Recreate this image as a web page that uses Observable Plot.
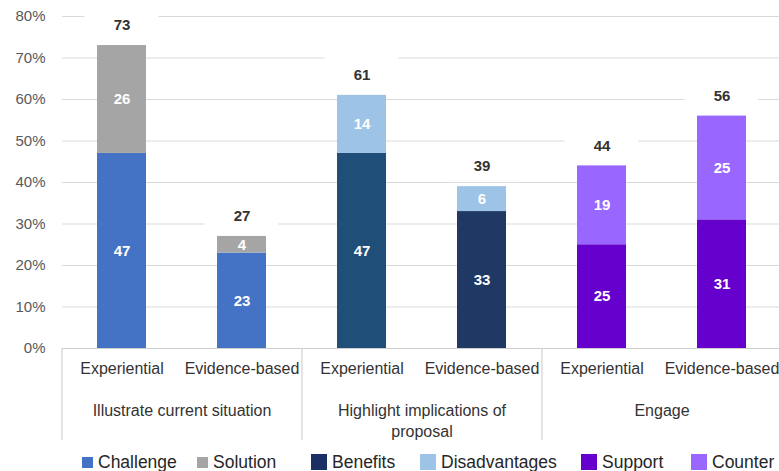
<!DOCTYPE html>
<html>
<head>
<meta charset="utf-8">
<script src="https://cdn.jsdelivr.net/npm/d3@7"></script>
<script src="https://cdn.jsdelivr.net/npm/@observablehq/plot@0.6"></script>
<style>
  body { margin: 0; background: #fff; font-family: "Liberation Sans", Arial, sans-serif; }
  #chart { position: relative; width: 779px; height: 471px; overflow: hidden; }
  #chart svg { display: block; }
  .legend { position: absolute; top: 450px; left: 0; width: 779px; height: 24px; font-size: 17.5px; color: #262626; }
  .legend .item { position: absolute; top: 0; height: 24px; display: flex; align-items: center; white-space: nowrap; }
  .legend .sw { display: inline-block; margin-right: 5px; }
</style>
</head>
<body>
<div id="chart"></div>
<script>
// Category and tick labels
const groups = ["Illustrate current situation", "Highlight implications of\nproposal", "Engage"];
const evidenceTypes = ["Experiential", "Evidence-based"];
const yTicks = [0, 10, 20, 30, 40, 50, 60, 70, 80];

// Stacked segments, one entry per bar (bars ordered group by group)
const lowerSeries = ["Challenge", "Challenge", "Benefits", "Benefits", "Support", "Support"];
const lowerValues = [47, 23, 47, 33, 25, 31];
const upperSeries = ["Solution", "Solution", "Disadvantages", "Disadvantages", "Counter", "Counter"];
const upperValues = [26, 4, 14, 6, 19, 25];

// Legend entries
const legendSeries = ["Challenge", "Solution", "Benefits", "Disadvantages", "Support", "Counter"];

// Colours
const palette = {
  Challenge: "#4472C4",
  Solution: "#A5A5A5",
  Benefits: "#1B2F63",
  Disadvantages: "#9DC3E6",
  Support: "#6600CC",
  Counter: "#9966FF"
};
const benefitsShade = {"Experiential": "#1F4E79", "Evidence-based": "#203864"};

// Layout
const width = 779, height = 450;
const plotLeft = 62, plotRight = 782, plotTop = 16, plotBottom = 348;
const step = (plotRight - plotLeft) / (groups.length * evidenceTypes.length);

// Build tidy tables
const bars = lowerValues.map((v, i) => ({
  id: "bar" + i,
  group: groups[Math.floor(i / evidenceTypes.length)],
  type: evidenceTypes[i % evidenceTypes.length],
  total: v + upperValues[i]
}));
const segments = [];
bars.forEach((b, i) => {
  segments.push({id: b.id, type: b.type, series: lowerSeries[i], value: lowerValues[i]});
  segments.push({id: b.id, type: b.type, series: upperSeries[i], value: upperValues[i]});
});
const groupRows = groups.map((g, k) => ({label: g, first: bars[k * evidenceTypes.length].id}));

const segmentFill = d => d.series === "Benefits" ? benefitsShade[d.type] : palette[d.series];

const chart = Plot.plot({
  width, height,
  marginLeft: plotLeft, marginRight: 0,
  marginTop: plotTop, marginBottom: height - plotBottom,
  style: {fontFamily: '"Liberation Sans", Arial, sans-serif', background: "#fff"},
  x: {domain: bars.map(d => d.id), range: [plotLeft, plotRight], paddingInner: 0.59, paddingOuter: 0.295, axis: null},
  y: {domain: [0, 80], axis: null},
  color: {type: "identity"},
  marks: [
    // gridlines and baseline
    Plot.ruleY(yTicks.filter(t => t > 0), {stroke: "#d9d9d9", strokeWidth: 1.2}),
    Plot.ruleY([0], {stroke: "#d0d0d0", strokeWidth: 1.2}),
    // group separators below the baseline
    Plot.ruleX(groupRows, {x: "first", dx: -step / 2, stroke: "#d0d0d0", strokeWidth: 1.2,
      insetTop: plotBottom - plotTop, insetBottom: -92}),
    // white boxes behind the totals
    Plot.barY(bars, {x: "id", y1: "total", y2: "total", fill: "#fff",
      insetTop: -40, insetBottom: 4, insetLeft: -12.5, insetRight: -12.5}),
    // stacked bars
    Plot.barY(segments, Plot.stackY({x: "id", y: "value", fill: segmentFill, order: null})),
    // segment values
    Plot.text(segments, Plot.stackY({x: "id", y: "value", text: "value", order: null,
      fill: "#fff", fontSize: 15, fontWeight: "bold"})),
    // bar totals
    Plot.text(bars, {x: "id", y: "total", text: "total", dy: -20, fill: "#333",
      fontSize: 15, fontWeight: "bold"}),
    // y axis labels
    Plot.axisY({ticks: yTicks, tickFormat: d => d + "%", tickSize: 0, tickPadding: plotLeft - 45,
      fontSize: 15, fill: "#595959"}),
    // evidence type labels
    Plot.text(bars, {x: "id", text: "type", frameAnchor: "bottom", dy: 25, fontSize: 16, fill: "#333"}),
    // group labels
    Plot.text(groupRows, {x: "first", dx: step / 2, text: "label", frameAnchor: "bottom",
      lineAnchor: "top", dy: 53, lineHeight: 1.3, fontSize: 16, fill: "#333"})
  ]
});

const root = document.getElementById("chart");
root.appendChild(chart);

// Legend below the chart
const legendLeft = [82, 197, 311, 420, 581, 691];
const swatchSize = [11, 11, 16, 16, 16, 16];
const legend = document.createElement("div");
legend.className = "legend";
legendSeries.forEach((s, i) => {
  const item = document.createElement("div");
  item.className = "item";
  item.style.left = legendLeft[i] + "px";
  const sw = document.createElement("span");
  sw.className = "sw";
  sw.style.width = swatchSize[i] + "px";
  sw.style.height = swatchSize[i] + "px";
  sw.style.background = palette[s];
  const label = document.createElement("span");
  label.textContent = s;
  item.appendChild(sw);
  item.appendChild(label);
  legend.appendChild(item);
});
root.appendChild(legend);
</script>
</body>
</html>
